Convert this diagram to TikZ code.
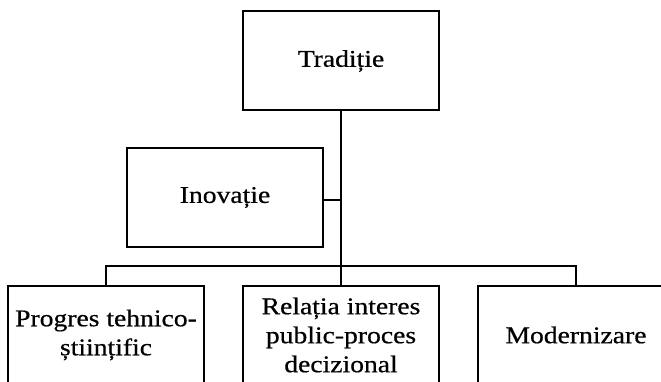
\documentclass[tikz,border=0pt]{standalone}
\usepackage{fontspec}
\setmainfont{Liberation Serif}[FakeStretch=1.15, FakeBold=0.6]
\usetikzlibrary{positioning}
\tikzset{every node/.append style={align=center}}

\begin{document}
\begin{tikzpicture}[
    x=1pt, y=-1pt,
    box/.style={draw, line width=2pt, minimum width=196pt, minimum height=99pt, inner sep=2pt, font=\fontsize{24}{29}\selectfont},
    link/.style={line width=2pt}
]
    \useasboundingbox (0,0) rectangle (661,382);
    \clip (0,0) rectangle (661,382);

    % Boxes
    \node[box] (traditie) at (341,61) {Tradiție};
    \node[box] (inovatie) at (225,197.5) {Inovație};
    \node[box, below=173pt of traditie] (relatia) {Relația interes\\public-proces\\decizional};
    \node[box, left=37pt of relatia] (progres) {Progres tehnico-\\științific};
    \node[box, right=37pt of relatia] (modernizare) {Modernizare};

    % Connectors
    \coordinate (bar) at (341,266);
    \draw[link] (traditie.south) -- (relatia.north);
    \draw[link] (inovatie.east |- 0,200) -- (traditie.south |- 0,200);
    \draw[link] (progres.north) -- (progres.north |- bar) -- (modernizare.north |- bar) -- (modernizare.north);
\end{tikzpicture}
\end{document}
